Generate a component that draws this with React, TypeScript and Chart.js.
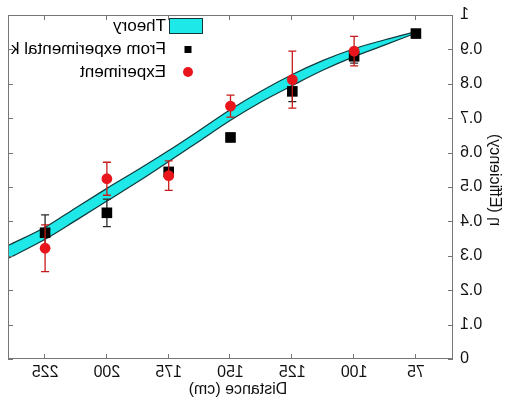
import React, { useEffect, useRef } from 'react';
import { Chart, registerables } from 'chart.js';

Chart.register(...registerables);

const FONT = '"Liberation Sans", Arial, Helvetica, sans-serif';

const X_TICKS = [75, 100, 125, 150, 175, 200, 225];
const Y_TICKS = [0, 0.1, 0.2, 0.3, 0.4, 0.5, 0.6, 0.7, 0.8, 0.9, 1];

const THEORY_DIST = [240, 225, 212.5, 200, 187.5, 175, 162.5, 150, 137.5, 125, 112.5, 100, 87.5, 77];
const THEORY_UPPER = [0.33, 0.383, 0.44, 0.496, 0.55, 0.606, 0.665, 0.725, 0.779, 0.827, 0.868, 0.902, 0.928, 0.948];
const THEORY_LOWER = [0.292, 0.348, 0.403, 0.459, 0.515, 0.574, 0.634, 0.694, 0.748, 0.795, 0.84, 0.879, 0.913, 0.942];

const CALC_DIST = [225, 200, 175, 150, 125, 100, 75];
const CALC_ETA = [0.367, 0.425, 0.544, 0.644, 0.778, 0.88, 0.946];
const CALC_ERR = [0.052, 0.04, 0.012, 0.012, 0.03, 0.02, 0.01];

const EXP_DIST = [225, 200, 175, 150, 125, 100];
const EXP_ETA = [0.322, 0.524, 0.533, 0.735, 0.812, 0.895];
const EXP_ERR = [0.068, 0.048, 0.043, 0.032, 0.083, 0.043];

const LEGEND_LABELS = ['Theory', 'From experimental k', 'Experiment'];
const X_TITLE = 'Distance (cm)';
const Y_TITLE = 'η (Efficiency)';

const RED = '#e8161c';
const CYAN = '#1fe8e8';
const BAND_EDGE = '#0e3a3c';
const FRAME = '#767676';

const toPts = (xs: number[], ys: number[]) => xs.map((x, i) => ({ x, y: ys[i] }));

const ERRORS: Record<number, { xs: number[]; ys: number[]; err: number[]; color: string }> = {
  0: { xs: EXP_DIST, ys: EXP_ETA, err: EXP_ERR, color: '#c81a1a' },
  1: { xs: CALC_DIST, ys: CALC_ETA, err: CALC_ERR, color: '#2a2a2a' },
};

const decorPlugin = {
  id: 'decor',
  beforeDatasetDraw(chart: any, args: any) {
    const eb = ERRORS[args.index];
    if (!eb) return;
    const { ctx, scales } = chart;
    const xs = scales.x;
    const ys = scales.y;
    ctx.save();
    ctx.strokeStyle = eb.color;
    ctx.lineWidth = 1.3;
    eb.xs.forEach((xv, i) => {
      const px = xs.getPixelForValue(xv);
      const top = ys.getPixelForValue(eb.ys[i] + eb.err[i]);
      const bot = ys.getPixelForValue(eb.ys[i] - eb.err[i]);
      ctx.beginPath();
      ctx.moveTo(px, top);
      ctx.lineTo(px, bot);
      ctx.moveTo(px - 4, top);
      ctx.lineTo(px + 4, top);
      ctx.moveTo(px - 4, bot);
      ctx.lineTo(px + 4, bot);
      ctx.stroke();
    });
    ctx.restore();
  },
  afterDatasetsDraw(chart: any) {
    const { ctx, chartArea: a } = chart;
    ctx.save();
    ctx.beginPath();
    ctx.rect(a.left, a.top, a.right - a.left, a.bottom - a.top);
    ctx.clip();
    // legend
    ctx.fillStyle = CYAN;
    ctx.fillRect(304, 18, 33, 15);
    ctx.strokeStyle = BAND_EDGE;
    ctx.lineWidth = 1;
    ctx.strokeRect(304.5, 18.5, 33, 15);
    ctx.fillStyle = '#000';
    ctx.fillRect(315.5, 46, 7, 7);
    ctx.fillStyle = RED;
    ctx.beginPath();
    ctx.arc(319, 72, 5, 0, Math.PI * 2);
    ctx.fill();
    ctx.fillStyle = '#000';
    ctx.font = `17px ${FONT}`;
    ctx.textAlign = 'left';
    ctx.textBaseline = 'middle';
    const ly = [26.5, 49.5, 72];
    LEGEND_LABELS.forEach((t, i) => ctx.fillText(t, 341, ly[i]));
    ctx.restore();
  },
  afterDraw(chart: any) {
    const { ctx, chartArea: a, scales } = chart;
    ctx.save();
    ctx.strokeStyle = FRAME;
    ctx.lineWidth = 1;
    ctx.strokeRect(a.left + 0.5, a.top + 0.5, a.right - a.left - 1, a.bottom - a.top - 1);
    ctx.beginPath();
    const tl = 5;
    X_TICKS.forEach((v) => {
      const px = Math.round(scales.x.getPixelForValue(v)) + 0.5;
      ctx.moveTo(px, a.bottom);
      ctx.lineTo(px, a.bottom - tl);
      ctx.moveTo(px, a.top);
      ctx.lineTo(px, a.top + tl);
    });
    Y_TICKS.forEach((v) => {
      const py = Math.round(scales.y.getPixelForValue(v)) + 0.5;
      ctx.moveTo(a.left, py);
      ctx.lineTo(a.left + tl, py);
      ctx.moveTo(a.right, py);
      ctx.lineTo(a.right - tl, py);
    });
    ctx.stroke();
    // axis titles
    ctx.fillStyle = '#111';
    ctx.font = `16px ${FONT}`;
    ctx.textAlign = 'center';
    ctx.textBaseline = 'middle';
    ctx.fillText(X_TITLE, 269, 390);
    ctx.translate(13, 180);
    ctx.rotate(-Math.PI / 2);
    ctx.fillText(Y_TITLE, 0, 0);
    ctx.restore();
  },
};

export default function App() {
  const ref = useRef<HTMLCanvasElement | null>(null);

  useEffect(() => {
    if (!ref.current) return;
    const chart = new Chart(ref.current, {
      type: 'scatter',
      data: {
        datasets: [
          {
            label: 'Experiment',
            data: toPts(EXP_DIST, EXP_ETA),
            pointStyle: 'circle',
            pointRadius: 5.4,
            backgroundColor: RED,
            borderWidth: 0,
            showLine: false,
          },
          {
            label: 'From experimental k',
            data: toPts(CALC_DIST, CALC_ETA),
            pointStyle: 'rect',
            pointRadius: 7.5,
            backgroundColor: '#000',
            borderWidth: 0,
            showLine: false,
          },
          {
            label: 'Theory',
            data: toPts(THEORY_DIST, THEORY_UPPER),
            showLine: true,
            borderColor: BAND_EDGE,
            borderWidth: 1.2,
            backgroundColor: CYAN,
            pointRadius: 0,
            cubicInterpolationMode: 'monotone',
            fill: '+1',
          },
          {
            label: 'Theory lower',
            data: toPts(THEORY_DIST, THEORY_LOWER),
            showLine: true,
            borderColor: BAND_EDGE,
            borderWidth: 1.2,
            pointRadius: 0,
            cubicInterpolationMode: 'monotone',
            fill: false,
          },
        ] as any,
      },
      options: {
        animation: false,
        responsive: false,
        events: [],
        layout: { padding: { top: 8, right: 8, left: 0, bottom: 0 } },
        plugins: {
          legend: { display: false },
          tooltip: { enabled: false },
          filler: { propagate: false, drawTime: 'beforeDatasetsDraw' } as any,
        },
        scales: {
          x: {
            type: 'linear',
            min: 60,
            max: 240,
            afterBuildTicks: (s: any) => {
              s.ticks = X_TICKS.map((v) => ({ value: v }));
            },
            afterFit: (s: any) => {
              s.height = 50;
            },
            grid: { display: false, drawTicks: false },
            border: { display: false },
            ticks: {
              font: { family: FONT, size: 16, lineHeight: 1 },
              color: '#111',
              padding: 6,
              maxRotation: 0,
              autoSkip: false,
            },
          },
          y: {
            type: 'linear',
            min: 0,
            max: 1,
            afterBuildTicks: (s: any) => {
              s.ticks = Y_TICKS.map((v) => ({ value: v }));
            },
            afterFit: (s: any) => {
              s.width = 54;
            },
            grid: { display: false, drawTicks: false },
            border: { display: false },
            ticks: {
              font: { family: FONT, size: 16, lineHeight: 1 },
              color: '#111',
              padding: 7,
              autoSkip: false,
              callback: (v: any) => String(Number(Number(v).toFixed(1))),
            },
          },
        },
      },
      plugins: [decorPlugin as any],
    });
    return () => chart.destroy();
  }, []);

  return (
    <div style={{ position: 'fixed', left: 0, top: 0, width: 507, height: 409, background: '#fff' }}>
      <canvas
        ref={ref}
        width={507}
        height={409}
        style={{ display: 'block', transform: 'scaleX(-1)' }}
      />
    </div>
  );
}
